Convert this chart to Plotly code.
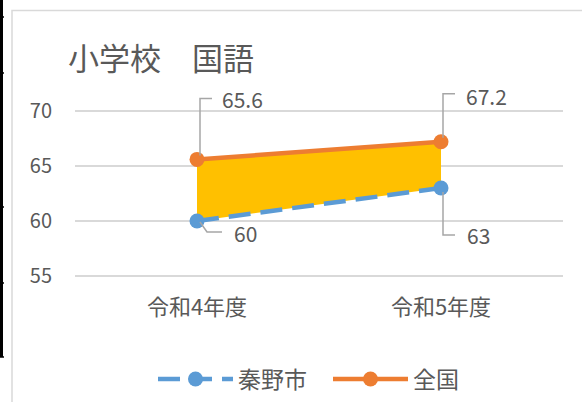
import plotly.graph_objects as go

# Data
categories = ["令和4年度", "令和5年度"]
hadano = [60, 63]
national = [65.6, 67.2]
series_names = ["秦野市", "全国"]
y_ticks = [55, 60, 65, 70]
title_text = "小学校　国語"

BLUE = "#5B9BD5"
ORANGE = "#ED7D31"
GOLD = "#FFC000"
TEXT = "#595959"
GRID = "#D9D9D9"
LEADER = "#A6A6A6"
FONT = "Noto Sans CJK JP"

W, H = 582, 402

# Value axis: extra headroom above the top tick keeps the label leaders
# inside the plotting area (shapes on axes are clipped to it).
Y_MIN, Y_MAX = 54, 75
PX_PER_UNIT = 11
Y_BASE_PX = 276          # pixel row of the 55 gridline
y_bottom_px = Y_BASE_PX + (55 - Y_MIN) * PX_PER_UNIT
y_top_px = Y_BASE_PX - (Y_MAX - 55) * PX_PER_UNIT

fig = go.Figure()

# Band between the two series
fig.add_trace(go.Scatter(x=categories, y=hadano, mode="lines",
                         line=dict(width=0, color=GOLD), showlegend=False,
                         hoverinfo="skip"))
fig.add_trace(go.Scatter(x=categories, y=national, mode="lines",
                         line=dict(width=0, color=GOLD), fill="tonexty",
                         fillcolor=GOLD, showlegend=False, hoverinfo="skip"))

# Series lines
fig.add_trace(go.Scatter(x=categories, y=hadano, mode="lines+markers",
                         name=series_names[0],
                         line=dict(color=BLUE, width=4.5, dash="22px,10px"),
                         marker=dict(color=BLUE, size=15)))
fig.add_trace(go.Scatter(x=categories, y=national, mode="lines+markers",
                         name=series_names[1],
                         line=dict(color=ORANGE, width=4.5),
                         marker=dict(color=ORANGE, size=15)))

# Data labels with bent leader lines (pixel offsets from each point)
label_specs = [
    # (values, index, leader path in px, text xshift, text yshift)
    (national, 0, "M 3 4 L 3 61 L 15 61", 23, 60),
    (hadano, 0, "M 3 -1 L 10 -11 L 25 -11", 35, -12),
    (national, 1, "M 2 4 L 2 48 L 14 48", 23, 46),
    (hadano, 1, "M 2 -4 L 2 -47 L 14 -47", 24, -47),
]
shapes = []
annotations = []
for vals, i, path, xs, ys in label_specs:
    shapes.append(dict(type="path", xref="x", yref="y",
                       xsizemode="pixel", ysizemode="pixel",
                       xanchor=categories[i], yanchor=vals[i], path=path,
                       line=dict(color=LEADER, width=1.5), layer="above"))
    annotations.append(dict(x=categories[i], y=vals[i], xref="x", yref="y",
                            text=f"{vals[i]:g}", showarrow=False,
                            xanchor="left", yanchor="middle",
                            xshift=xs, yshift=ys,
                            font=dict(family=FONT, size=21, color=TEXT)))

# Title
annotations.append(dict(x=66 / W, y=1 - 56 / H, xref="paper", yref="paper",
                        text=title_text, showarrow=False, xanchor="left",
                        yanchor="middle",
                        font=dict(family=FONT, size=31, color=TEXT)))

# Chart frame and the worksheet cell borders along the left edge
shapes.append(dict(type="path", xref="paper", yref="paper",
                   path=f"M {12/W} -0.01 L {12/W} {1-10.5/H} L 1.01 {1-10.5/H}",
                   line=dict(color=GRID, width=1.5), layer="below"))
shapes.append(dict(type="line", xref="paper", yref="paper",
                   x0=1.5 / W, x1=1.5 / W, y0=1 - 357 / H, y1=1.01,
                   line=dict(color="black", width=3)))
for yy in [17, 73, 207, 283, 357]:
    shapes.append(dict(type="line", xref="paper", yref="paper",
                       x0=0, x1=4 / W, y0=1 - yy / H, y1=1 - yy / H,
                       line=dict(color="black", width=1.5)))

fig.update_layout(
    width=W, height=H,
    margin=dict(l=0, r=0, t=0, b=0, autoexpand=False),
    paper_bgcolor="white", plot_bgcolor="white",
    font=dict(family=FONT, color=TEXT),
    shapes=shapes, annotations=annotations,
    xaxis=dict(domain=[75 / W, 563 / W], range=[-0.5, 1.5],
               type="category", showgrid=False, showline=False,
               zeroline=False, ticks="", ticklabelstandoff=5,
               tickfont=dict(family=FONT, size=22, color=TEXT)),
    yaxis=dict(domain=[1 - y_bottom_px / H, 1 - y_top_px / H],
               range=[Y_MIN, Y_MAX],
               tickvals=y_ticks, showgrid=True, gridcolor=GRID, gridwidth=1.5,
               zeroline=False, showline=False, ticks="",
               ticklabelstandoff=22,
               tickfont=dict(family=FONT, size=20, color=TEXT)),
    legend=dict(orientation="h", x=153 / W, y=1 - 379 / H, xanchor="left",
                yanchor="middle", itemwidth=75, entrywidth=85,
                entrywidthmode="pixels",
                font=dict(family=FONT, size=23, color=TEXT),
                bgcolor="rgba(0,0,0,0)", traceorder="normal"),
    showlegend=True,
)

fig.write_html("out.html")
